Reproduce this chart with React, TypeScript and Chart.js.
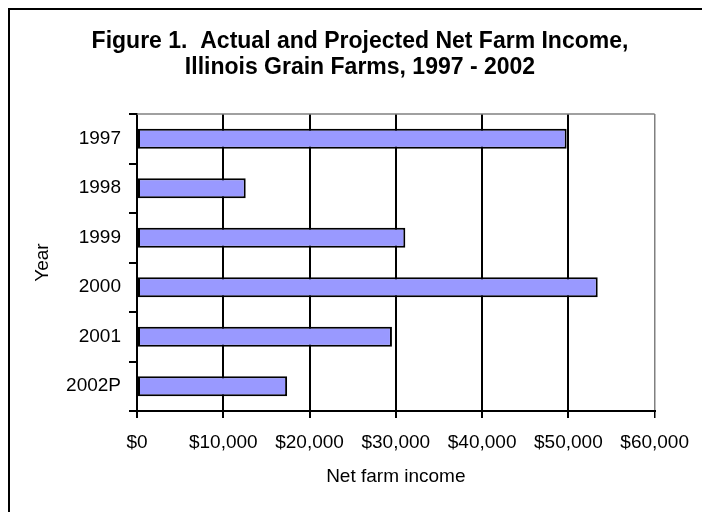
import React, { useEffect, useRef } from "react";
import { Chart, registerables } from "chart.js";

Chart.register(...registerables);

const years = ["1997", "1998", "1999", "2000", "2001", "2002P"];
const netIncome = [49800, 12600, 31100, 53400, 29550, 17400];
const titleLines = ["Figure 1.  Actual and Projected Net Farm Income,", "Illinois Grain Farms, 1997 - 2002"];
const xAxisTitle = "Net farm income";
const yAxisTitle = "Year";
const xMin = 0;
const xMax = 60000;
const xStep = 10000;

const FONT = "'Liberation Sans', Arial, sans-serif";

const framePlugin = {
  id: "frame",
  beforeDraw(chart: any) {
    const ctx = chart.ctx;
    ctx.save();
    ctx.fillStyle = "#ffffff";
    ctx.fillRect(0, 0, chart.width, chart.height);
    ctx.strokeStyle = "#000000";
    ctx.lineWidth = 2;
    ctx.beginPath();
    ctx.moveTo(9, chart.height);
    ctx.lineTo(9, 9);
    ctx.lineTo(chart.width, 9);
    ctx.stroke();
    ctx.restore();
  },
  beforeDatasetsDraw(chart: any) {
    const { ctx, chartArea } = chart;
    ctx.save();
    ctx.strokeStyle = "#808080";
    ctx.lineWidth = 1.5;
    ctx.beginPath();
    ctx.moveTo(chartArea.left, chartArea.top);
    ctx.lineTo(chartArea.right, chartArea.top);
    ctx.stroke();
    ctx.restore();
  },
  afterDraw(chart: any) {
    const ctx = chart.ctx;
    ctx.save();
    ctx.fillStyle = "#000000";
    ctx.font = "bold 23px " + FONT;
    ctx.textAlign = "center";
    ctx.textBaseline = "alphabetic";
    titleLines.forEach((line, i) => {
      ctx.fillText(line, 360, 48 + i * 26);
    });
    ctx.restore();
  },
};

export default function App() {
  const ref = useRef<HTMLCanvasElement | null>(null);

  useEffect(() => {
    if (!ref.current) return;
    const chart = new Chart(ref.current, {
      type: "bar",
      data: {
        labels: years,
        datasets: [
          {
            data: netIncome,
            backgroundColor: "#9999FF",
            borderColor: "#000000",
            borderWidth: 2,
            borderSkipped: false,
            barPercentage: 0.404,
            categoryPercentage: 1,
          },
        ],
      },
      options: {
        indexAxis: "y",
        animation: false,
        responsive: false,
        devicePixelRatio: 1,
        layout: { padding: { left: 18, right: 43, top: 114, bottom: 0 } },
        plugins: {
          legend: { display: false },
          tooltip: { enabled: false },
          title: { display: false },
        },
        scales: {
          x: {
            type: "linear",
            min: xMin,
            max: xMax,
            afterFit(scale: any) {
              scale.height = 101;
            },
            ticks: {
              stepSize: xStep,
              autoSkip: false,
              maxRotation: 0,
              padding: 13,
              color: "#000000",
              font: { family: FONT, size: 19 },
              callback: (v: any) => "$" + Number(v).toLocaleString("en-US"),
            },
            grid: {
              color: (c: any) => (c.tick && c.tick.value === xMax ? "#808080" : "#000000"),
              lineWidth: (c: any) => (c.tick && c.tick.value === xMax ? 1.5 : 2),
              tickColor: "#000000",
              tickLength: 7,
              drawTicks: true,
            },
            border: { color: "#000000", width: 2 },
            title: {
              display: true,
              text: xAxisTitle,
              color: "#000000",
              font: { family: FONT, size: 19 },
              padding: { top: 0, bottom: 23.6 },
            },
          },
          y: {
            type: "category",
            afterFit(scale: any) {
              scale.width = 119;
            },
            ticks: {
              padding: 8,
              color: "#000000",
              font: { family: FONT, size: 19 },
            },
            grid: {
              drawOnChartArea: false,
              drawTicks: true,
              tickLength: 8,
              offset: true,
              color: "#000000",
              lineWidth: 2,
            },
            border: { color: "#000000", width: 2 },
            title: {
              display: true,
              text: yAxisTitle,
              color: "#000000",
              font: { family: FONT, size: 19 },
              padding: { top: 13.6, bottom: 0 },
            },
          },
        },
      },
      plugins: [framePlugin],
    } as any);
    return () => chart.destroy();
  }, []);

  return (
    <div style={{ position: "absolute", left: 0, top: 0, width: 702, height: 512 }}>
      <canvas ref={ref} width={702} height={512} style={{ width: 702, height: 512, display: "block" }} />
    </div>
  );
}
